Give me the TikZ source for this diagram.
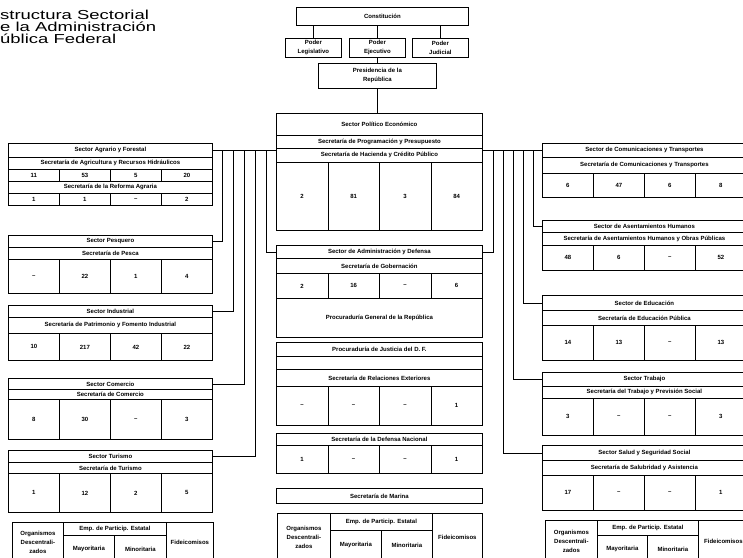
\documentclass[tikz,border=0pt]{standalone}
\usepackage{fontspec}
\newfontfamily\cellsf{Liberation Sans}
\newfontfamily\titlesf[FakeStretch=1.42]{Liberation Sans}
\usepackage{tikz}
\tikzset{
  cell/.style={
    draw,
    line width=0.8pt,
    anchor=north west,
    inner sep=0pt,
    align=center,
    font=\cellsf\bfseries\fontsize{6}{9}\selectfont
  },
  link/.style={
    line width=0.8pt
  },
  titleline/.style={
    anchor=base west,
    inner sep=0pt,
    font=\titlesf\fontsize{13}{12}\selectfont
  }
}
% one row of four number cells
\newcommand{\numrow}[6]{%
  \foreach \v [count=\i] in {#6}
    \node[cell, minimum width=#4, minimum height=#5] (#1\i) at ({#2+(\i-1)*#4},#3) {\v};
}
\begin{document}
\begin{tikzpicture}[x=1pt, y=-1pt]
  \useasboundingbox (0,0) rectangle (743,557);
  \node[titleline] (tituloA) at (0,19) {structura Sectorial};
  \node[titleline] (tituloB) at (0,31) {e la Administración};
  \node[titleline] (tituloC) at (0,43) {ública Federal};

  % top
  \node[cell, minimum width=172, minimum height=18] (cons) at (296,7) {Constitución};
  \node[cell, minimum width=56, minimum height=19] (legis) at (285,38) {Poder\\Legislativo};
  \node[cell, minimum width=56, minimum height=19] (ejec) at (349,38) {Poder\\Ejecutivo};
  \node[cell, minimum width=56, minimum height=19] (judi) at (412,38) {Poder\\Judicial};
  \node[cell, minimum width=118, minimum height=25] (pres) at (318,63) {Presidencia de la\\República};

  % center column
  \node[cell, minimum width=206, minimum height=22] (polT) at (276,113) {Sector Político Económico};
  \node[cell, minimum width=206, minimum height=13] (polP) at (276,135) {Secretaría de Programación y Presupuesto};
  \node[cell, minimum width=206, minimum height=14] (polH) at (276,148) {Secretaría de Hacienda y Crédito Público};
  \numrow{polN}{276}{162}{51.5}{68}{2,81,3,84}

  \node[cell, minimum width=206, minimum height=13] (admT) at (276,245) {Sector de Administración y Defensa};
  \node[cell, minimum width=206, minimum height=15] (admG) at (276,258) {Secretaría de Gobernación};
  \numrow{admN}{276}{273}{51.5}{25}{2,16,–,6}
  \node[cell, minimum width=206, minimum height=39] (admP) at (276,298) {Procuraduría General de la República};

  \node[cell, minimum width=206, minimum height=14] (jusT) at (276,342) {Procuraduría de Justicia del D. F.};
  \node[cell, minimum width=206, minimum height=13] (jusB) at (276,356) {};
  \node[cell, minimum width=206, minimum height=17] (relS) at (276,369) {Secretaría de Relaciones Exteriores};
  \numrow{relN}{276}{386}{51.5}{39}{–,–,–,1}

  \node[cell, minimum width=206, minimum height=12] (defS) at (276,433) {Secretaría de la Defensa Nacional};
  \numrow{defN}{276}{445}{51.5}{28}{1,–,–,1}

  \node[cell, minimum width=206, minimum height=15] (marS) at (276,488) {Secretaría de Marina};

  \node[cell, minimum width=53, minimum height=47] (orgB) at (277,513) {Organismos\\Descentrali-\\zados};
  \node[cell, minimum width=102, minimum height=17] (empB) at (330,513) {Emp. de Particip. Estatal};
  \node[cell, minimum width=51, minimum height=30] (mayB) at (330,530) {Mayoritaria};
  \node[cell, minimum width=51, minimum height=30] (minB) at (381,530) {Minoritaria};
  \node[cell, minimum width=50, minimum height=47] (fidB) at (432,513) {Fideicomisos};

  % left column
  \node[cell, minimum width=204, minimum height=14] (agrT) at (8,143) {Sector Agrario y Forestal};
  \node[cell, minimum width=204, minimum height=12] (agrS) at (8,157) {Secretaría de Agricultura y Recursos Hidráulicos};
  \numrow{agrN}{8}{169}{51}{12}{11,53,5,20}
  \node[cell, minimum width=204, minimum height=12] (refS) at (8,181) {Secretaría de la Reforma Agraria};
  \numrow{refN}{8}{193}{51}{12}{1,1,–,2}

  \node[cell, minimum width=204, minimum height=12] (pesT) at (8,235) {Sector Pesquero};
  \node[cell, minimum width=204, minimum height=12] (pesS) at (8,247) {Secretaría de Pesca};
  \numrow{pesN}{8}{259}{51}{34}{–,22,1,4}

  \node[cell, minimum width=204, minimum height=12] (indT) at (8,305) {Sector Industrial};
  \node[cell, minimum width=204, minimum height=16] (indS) at (8,317) {Secretaría de Patrimonio y Fomento Industrial};
  \numrow{indN}{8}{333}{51}{27}{10,217,42,22}

  \node[cell, minimum width=204, minimum height=11] (cmcT) at (8,378) {Sector Comercio};
  \node[cell, minimum width=204, minimum height=10] (cmcS) at (8,389) {Secretaría de Comercio};
  \numrow{cmcN}{8}{399}{51}{40}{8,30,–,3}

  \node[cell, minimum width=204, minimum height=12] (turT) at (8,450) {Sector Turismo};
  \node[cell, minimum width=204, minimum height=11] (turS) at (8,462) {Secretaría de Turismo};
  \numrow{turN}{8}{473}{51}{39}{1,12,2,5}

  \node[cell, minimum width=51, minimum height=40] (orgL) at (12,522) {Organismos\\Descentrali-\\zados};
  \node[cell, minimum width=103, minimum height=13] (empL) at (63,522) {Emp. de Particip. Estatal};
  \node[cell, minimum width=51, minimum height=27] (mayL) at (63,535) {Mayoritaria};
  \node[cell, minimum width=52, minimum height=27] (minL) at (114,535) {Minoritaria};
  \node[cell, minimum width=47, minimum height=40] (fidL) at (166,522) {Fideicomisos};

  % right column
  \node[cell, minimum width=204, minimum height=14] (ctrT) at (542,143) {Sector de Comunicaciones y Transportes};
  \node[cell, minimum width=204, minimum height=16] (ctrS) at (542,157) {Secretaría de Comunicaciones y Transportes};
  \numrow{ctrN}{542}{173}{51}{24}{6,47,6,8}

  \node[cell, minimum width=204, minimum height=12] (aseT) at (542,220) {Sector de Asentamientos Humanos};
  \node[cell, minimum width=204, minimum height=13] (aseS) at (542,232) {Secretaría de Asentamientos Humanos y Obras Públicas};
  \numrow{aseN}{542}{245}{51}{25}{48,6,–,52}

  \node[cell, minimum width=204, minimum height=15] (eduT) at (542,295) {Sector de Educación};
  \node[cell, minimum width=204, minimum height=15] (eduS) at (542,310) {Secretaría de Educación Pública};
  \numrow{eduN}{542}{325}{51}{35}{14,13,–,13}

  \node[cell, minimum width=204, minimum height=14] (traT) at (542,372) {Sector Trabajo};
  \node[cell, minimum width=204, minimum height=12] (traS) at (542,386) {Secretaría del Trabajo y Previsión Social};
  \numrow{traN}{542}{398}{51}{37}{3,–,–,3}

  \node[cell, minimum width=204, minimum height=15] (salT) at (542,445) {Sector Salud y Seguridad Social};
  \node[cell, minimum width=204, minimum height=15] (salS) at (542,460) {Secretaría de Salubridad y Asistencia};
  \numrow{salN}{542}{475}{51}{35}{17,–,–,1}

  \node[cell, minimum width=52, minimum height=42] (orgR) at (545,520) {Organismos\\Descentrali-\\zados};
  \node[cell, minimum width=101, minimum height=15] (empR) at (597,520) {Emp. de Particip. Estatal};
  \node[cell, minimum width=50, minimum height=27] (mayR) at (597,535) {Mayoritaria};
  \node[cell, minimum width=51, minimum height=27] (minR) at (647,535) {Minoritaria};
  \node[cell, minimum width=50, minimum height=42] (fidR) at (698,520) {Fideicomisos};

  % connectors
  \draw[link] (legis.north) -- (legis.north |- cons.south);
  \draw[link] (ejec.north) -- (ejec.north |- cons.south);
  \draw[link] (judi.north) -- (judi.north |- cons.south);
  \draw[link] (ejec.south) -- (pres.north);
  \draw[link] (pres.south) -- (pres.south |- polT.north);

  \draw[link] (agrT.east) -- (polH.west |- agrT.east);
  \draw[link] (pesT.east) -| ([xshift=10pt]agrT.east);
  \draw[link] (indT.east) -| ([xshift=21pt]agrT.east);
  \draw[link] (cmcT.east) -| ([xshift=32pt]agrT.east);
  \draw[link] (turT.east) -| ([xshift=43pt]agrT.east);
  \draw[link] (admT.west) -| ([xshift=54pt]agrT.east);

  \draw[link] (ctrT.west) -- (polH.east |- ctrT.west);
  \draw[link] (aseT.west) -| ([xshift=-9pt]ctrT.west);
  \draw[link] (eduT.west) -| ([xshift=-19pt]ctrT.west);
  \draw[link] (traT.west) -| ([xshift=-29pt]ctrT.west);
  \draw[link] (salT.west) -| ([xshift=-39pt]ctrT.west);
  \draw[link] (admT.east) -| ([xshift=-49pt]ctrT.west);
\end{tikzpicture}
\end{document}
